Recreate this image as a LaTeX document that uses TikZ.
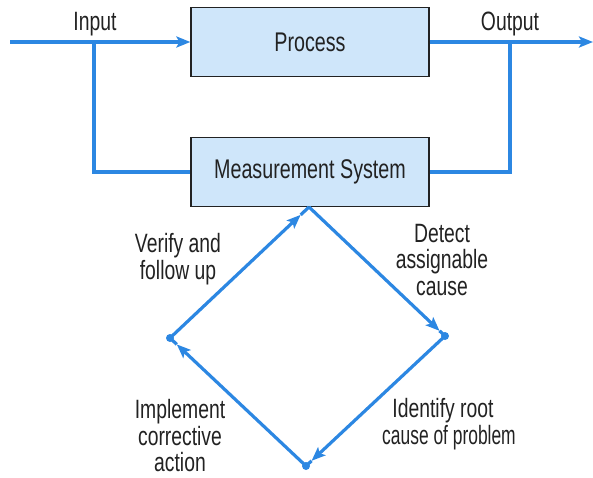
\documentclass[tikz,border=0pt]{standalone}
\usepackage{graphicx}
\usepackage{fontspec}
\setmainfont{Liberation Sans}[FakeStretch=0.73]
\usetikzlibrary{arrows.meta,calc}
\definecolor{flow}{HTML}{2C87E2}
\definecolor{boxfill}{HTML}{CFE6FA}
\definecolor{ink}{HTML}{222222}
\begin{document}
\begin{tikzpicture}[x=1pt,y=-1pt,
  flowline/.style={draw=flow,line width=3.2pt},
  arr/.style={-{Stealth[length=14pt,width=11pt,inset=3pt]}},
  box/.style={draw=ink,line width=1.2pt,fill=boxfill,minimum width=238pt,minimum height=69pt,font=\fontsize{27}{27}\selectfont,text=ink},
  lbl/.style={font=\fontsize{26.5}{26.5}\selectfont,align=center,text=ink,inner sep=1pt},
  dotc/.style={circle,fill=flow,inner sep=0pt,minimum size=8pt}]
\useasboundingbox (0,0) rectangle (593,477);
\node[box] (process) at (310,42) {Process};
\node[box] (meas) at (310,172) {Measurement System};
\coordinate (inL) at (10,42);
\coordinate (inB) at (94,42);
\coordinate (outR) at (593,42);
\coordinate (outB) at (510,42);
\draw[flowline,arr] (inL) -- (process.west);
\draw[flowline] (inB) -- (inB |- meas.west) -- (meas.west);
\draw[flowline,arr] (process.east) -- (outR);
\draw[flowline] (outB) -- (outB |- meas.east) -- (meas.east);
\node[lbl] (inlbl) at (95,24) {Input};
\node[lbl] (outlbl) at (510,24) {Output};
% diamond
\coordinate (top) at (309,207);
\node[dotc] (right) at (445,336) {};
\node[dotc] (bottom) at (306,466) {};
\node[dotc] (left) at (170,338) {};
\draw[flowline,arr] (left.center) -- ($(left.center)!0.94!(top)$);
\draw[flowline] ($(left.center)!0.94!(top)$) -- (top);
\draw[flowline,arr] (top) -- ($(top)!0.96!(right.center)$);
\draw[flowline] ($(top)!0.96!(right.center)$) -- (right.center);
\draw[flowline,arr] (right.center) -- ($(right.center)!0.96!(bottom.center)$);
\draw[flowline] ($(right.center)!0.96!(bottom.center)$) -- (bottom.center);
\draw[flowline,arr] (bottom.center) -- ($(bottom.center)!0.95!(left.center)$);
\draw[flowline] ($(bottom.center)!0.95!(left.center)$) -- (left.center);
\node[lbl] (verify) at (178,259) {Verify and\\follow up};
\node[lbl] (detect) at (442,260) {Detect\\assignable\\cause};
\node[lbl] (identify) at (449,424) {\hspace*{-12pt}Identify root\\\scalebox{0.9}[1]{cause of problem}};
\node[lbl] (implement) at (180,436) {Implement\\corrective\\action};
\end{tikzpicture}
\end{document}
